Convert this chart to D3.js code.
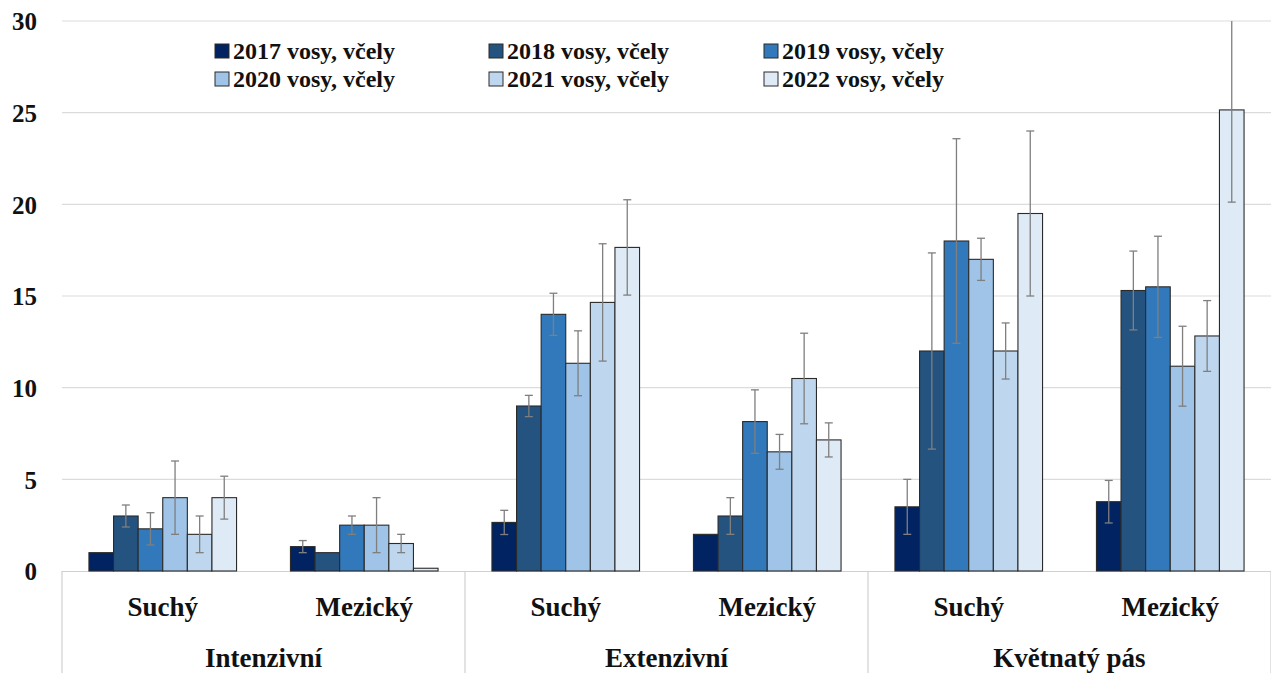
<!DOCTYPE html>
<html>
<head>
<meta charset="utf-8">
<script src="https://cdn.jsdelivr.net/npm/d3@7"></script>
<style>
  html, body { margin: 0; padding: 0; background: #fff; }
  svg { display: block; }
  text { font-family: "Liberation Serif", "DejaVu Serif", serif; font-weight: bold; fill: #111; }
</style>
</head>
<body>
<svg id="chart" width="1271" height="673"></svg>
<script>
// Categories: habitat types and their sub-sites
const groups = ["Intenzivní", "Extenzivní", "Květnatý pás"];
const sites = ["Suchý", "Mezický"];
const categories = [
  "Intenzivní|Suchý", "Intenzivní|Mezický",
  "Extenzivní|Suchý", "Extenzivní|Mezický",
  "Květnatý pás|Suchý", "Květnatý pás|Mezický"
];
const seriesNames = ["2017 vosy, včely", "2018 vosy, včely", "2019 vosy, včely",
                     "2020 vosy, včely", "2021 vosy, včely", "2022 vosy, včely"];
const seriesColors = ["#012361", "#24537f", "#3279bb", "#9fc4e7", "#bed7ee", "#deebf7"];

// Mean values per year, one array per category
const values2017 = [1.0, 1.33, 2.65, 2.0, 3.5, 3.78];
const values2018 = [3.0, 1.0, 9.0, 3.0, 12.0, 15.3];
const values2019 = [2.3, 2.5, 14.0, 8.15, 18.0, 15.5];
const values2020 = [4.0, 2.5, 11.33, 6.5, 17.0, 11.17];
const values2021 = [2.0, 1.5, 14.65, 10.5, 12.0, 12.82];
const values2022 = [4.0, 0.15, 17.65, 7.15, 19.5, 25.15];

// Error bar half-widths
const err2017 = [0, 0.33, 0.66, 0, 1.5, 1.16];
const err2018 = [0.6, 0, 0.58, 1.0, 5.35, 2.15];
const err2019 = [0.88, 0.5, 1.15, 1.73, 5.58, 2.76];
const err2020 = [2.0, 1.5, 1.77, 0.95, 1.15, 2.18];
const err2021 = [1.0, 0.5, 3.2, 2.47, 1.53, 1.93];
const err2022 = [1.17, 0, 2.6, 0.93, 4.5, 5.03];

const yTicks = [0, 5, 10, 15, 20, 25, 30];

const values = [values2017, values2018, values2019, values2020, values2021, values2022];
const errors = [err2017, err2018, err2019, err2020, err2021, err2022];

const svg = d3.select("#chart");
const margin = { left: 62, right: 0, top: 21, bottom: 102 };
const W = 1271, H = 673;
const plotBottom = H - margin.bottom;

const y = d3.scaleLinear().domain([0, 30]).range([plotBottom, margin.top]);
const x0 = d3.scaleBand().domain(categories).range([margin.left, W - margin.right])
  .paddingInner(0.2675).paddingOuter(0.13375);
const x1 = d3.scaleBand().domain(d3.range(seriesNames.length)).range([0, x0.bandwidth()]);

// Gridlines
svg.append("g").selectAll("line").data(yTicks.filter(t => t > 0)).join("line")
  .attr("x1", margin.left).attr("x2", W)
  .attr("y1", d => y(d)).attr("y2", d => y(d))
  .attr("stroke", "#dcdcdc").attr("stroke-width", 1.2);

// Y axis tick labels
const yAxis = d3.axisLeft(y).tickValues(yTicks).tickSize(0).tickPadding(0).tickFormat(d3.format("d"));
const yG = svg.append("g").attr("transform", `translate(37,0)`).call(yAxis);
yG.select(".domain").remove();
yG.selectAll("text").attr("font-size", 25).attr("dy", "0.35em");

// Category axis: baseline and group separators
svg.append("line").attr("x1", margin.left).attr("x2", W)
  .attr("y1", plotBottom + 0.5).attr("y2", plotBottom + 0.5)
  .attr("stroke", "#d0d0d0").attr("stroke-width", 1.2);
const groupStep = (W - margin.left) / groups.length;
svg.append("g").selectAll("line").data(d3.range(groups.length + 1)).join("line")
  .attr("x1", i => margin.left + i * groupStep).attr("x2", i => margin.left + i * groupStep)
  .attr("y1", plotBottom).attr("y2", H)
  .attr("stroke", "#d0d0d0").attr("stroke-width", 1.2);

// Bars
const barsG = svg.append("g");
categories.forEach((cat, ci) => {
  values.forEach((vals, si) => {
    barsG.append("rect")
      .attr("x", x0(cat) + x1(si))
      .attr("y", y(vals[ci]))
      .attr("width", x1.bandwidth())
      .attr("height", plotBottom - y(vals[ci]))
      .attr("fill", seriesColors[si])
      .attr("stroke", "#2a2a2a").attr("stroke-width", 1.1);
  });
});

// Error bars
const errG = svg.append("g").attr("stroke", "#7f7f7f").attr("stroke-width", 1.3);
categories.forEach((cat, ci) => {
  values.forEach((vals, si) => {
    const e = errors[si][ci];
    if (e <= 0) return;
    const cx = x0(cat) + x1(si) + x1.bandwidth() / 2;
    const hi = Math.min(vals[ci] + e, 30), lo = Math.max(vals[ci] - e, 0);
    errG.append("line").attr("x1", cx).attr("x2", cx).attr("y1", y(hi)).attr("y2", y(lo));
    if (vals[ci] + e <= 30) {
      errG.append("line").attr("x1", cx - 4).attr("x2", cx + 4).attr("y1", y(hi)).attr("y2", y(hi));
    }
    errG.append("line").attr("x1", cx - 4).attr("x2", cx + 4).attr("y1", y(lo)).attr("y2", y(lo));
  });
});

// Site labels
svg.append("g").selectAll("text").data(categories).join("text")
  .attr("x", d => x0(d) + x0.bandwidth() / 2).attr("y", 616)
  .attr("text-anchor", "middle").attr("font-size", 27)
  .text(d => d.split("|")[1]);

// Group labels
svg.append("g").selectAll("text").data(groups).join("text")
  .attr("x", (d, i) => margin.left + (i + 0.5) * groupStep).attr("y", 667)
  .attr("text-anchor", "middle").attr("font-size", 27)
  .text(d => d);

// Legend
const legendCols = [215, 489, 764];
const legendRows = [51, 79];
const lg = svg.append("g");
seriesNames.forEach((name, i) => {
  const lx = legendCols[i % 3], ly = legendRows[Math.floor(i / 3)];
  lg.append("rect").attr("x", lx).attr("y", ly - 7).attr("width", 14).attr("height", 14)
    .attr("fill", seriesColors[i]).attr("stroke", "#2a2a2a").attr("stroke-width", 1);
  lg.append("text").attr("x", lx + 18).attr("y", ly).attr("dy", "0.35em")
    .attr("font-size", 24).text(name);
});
</script>
</body>
</html>
